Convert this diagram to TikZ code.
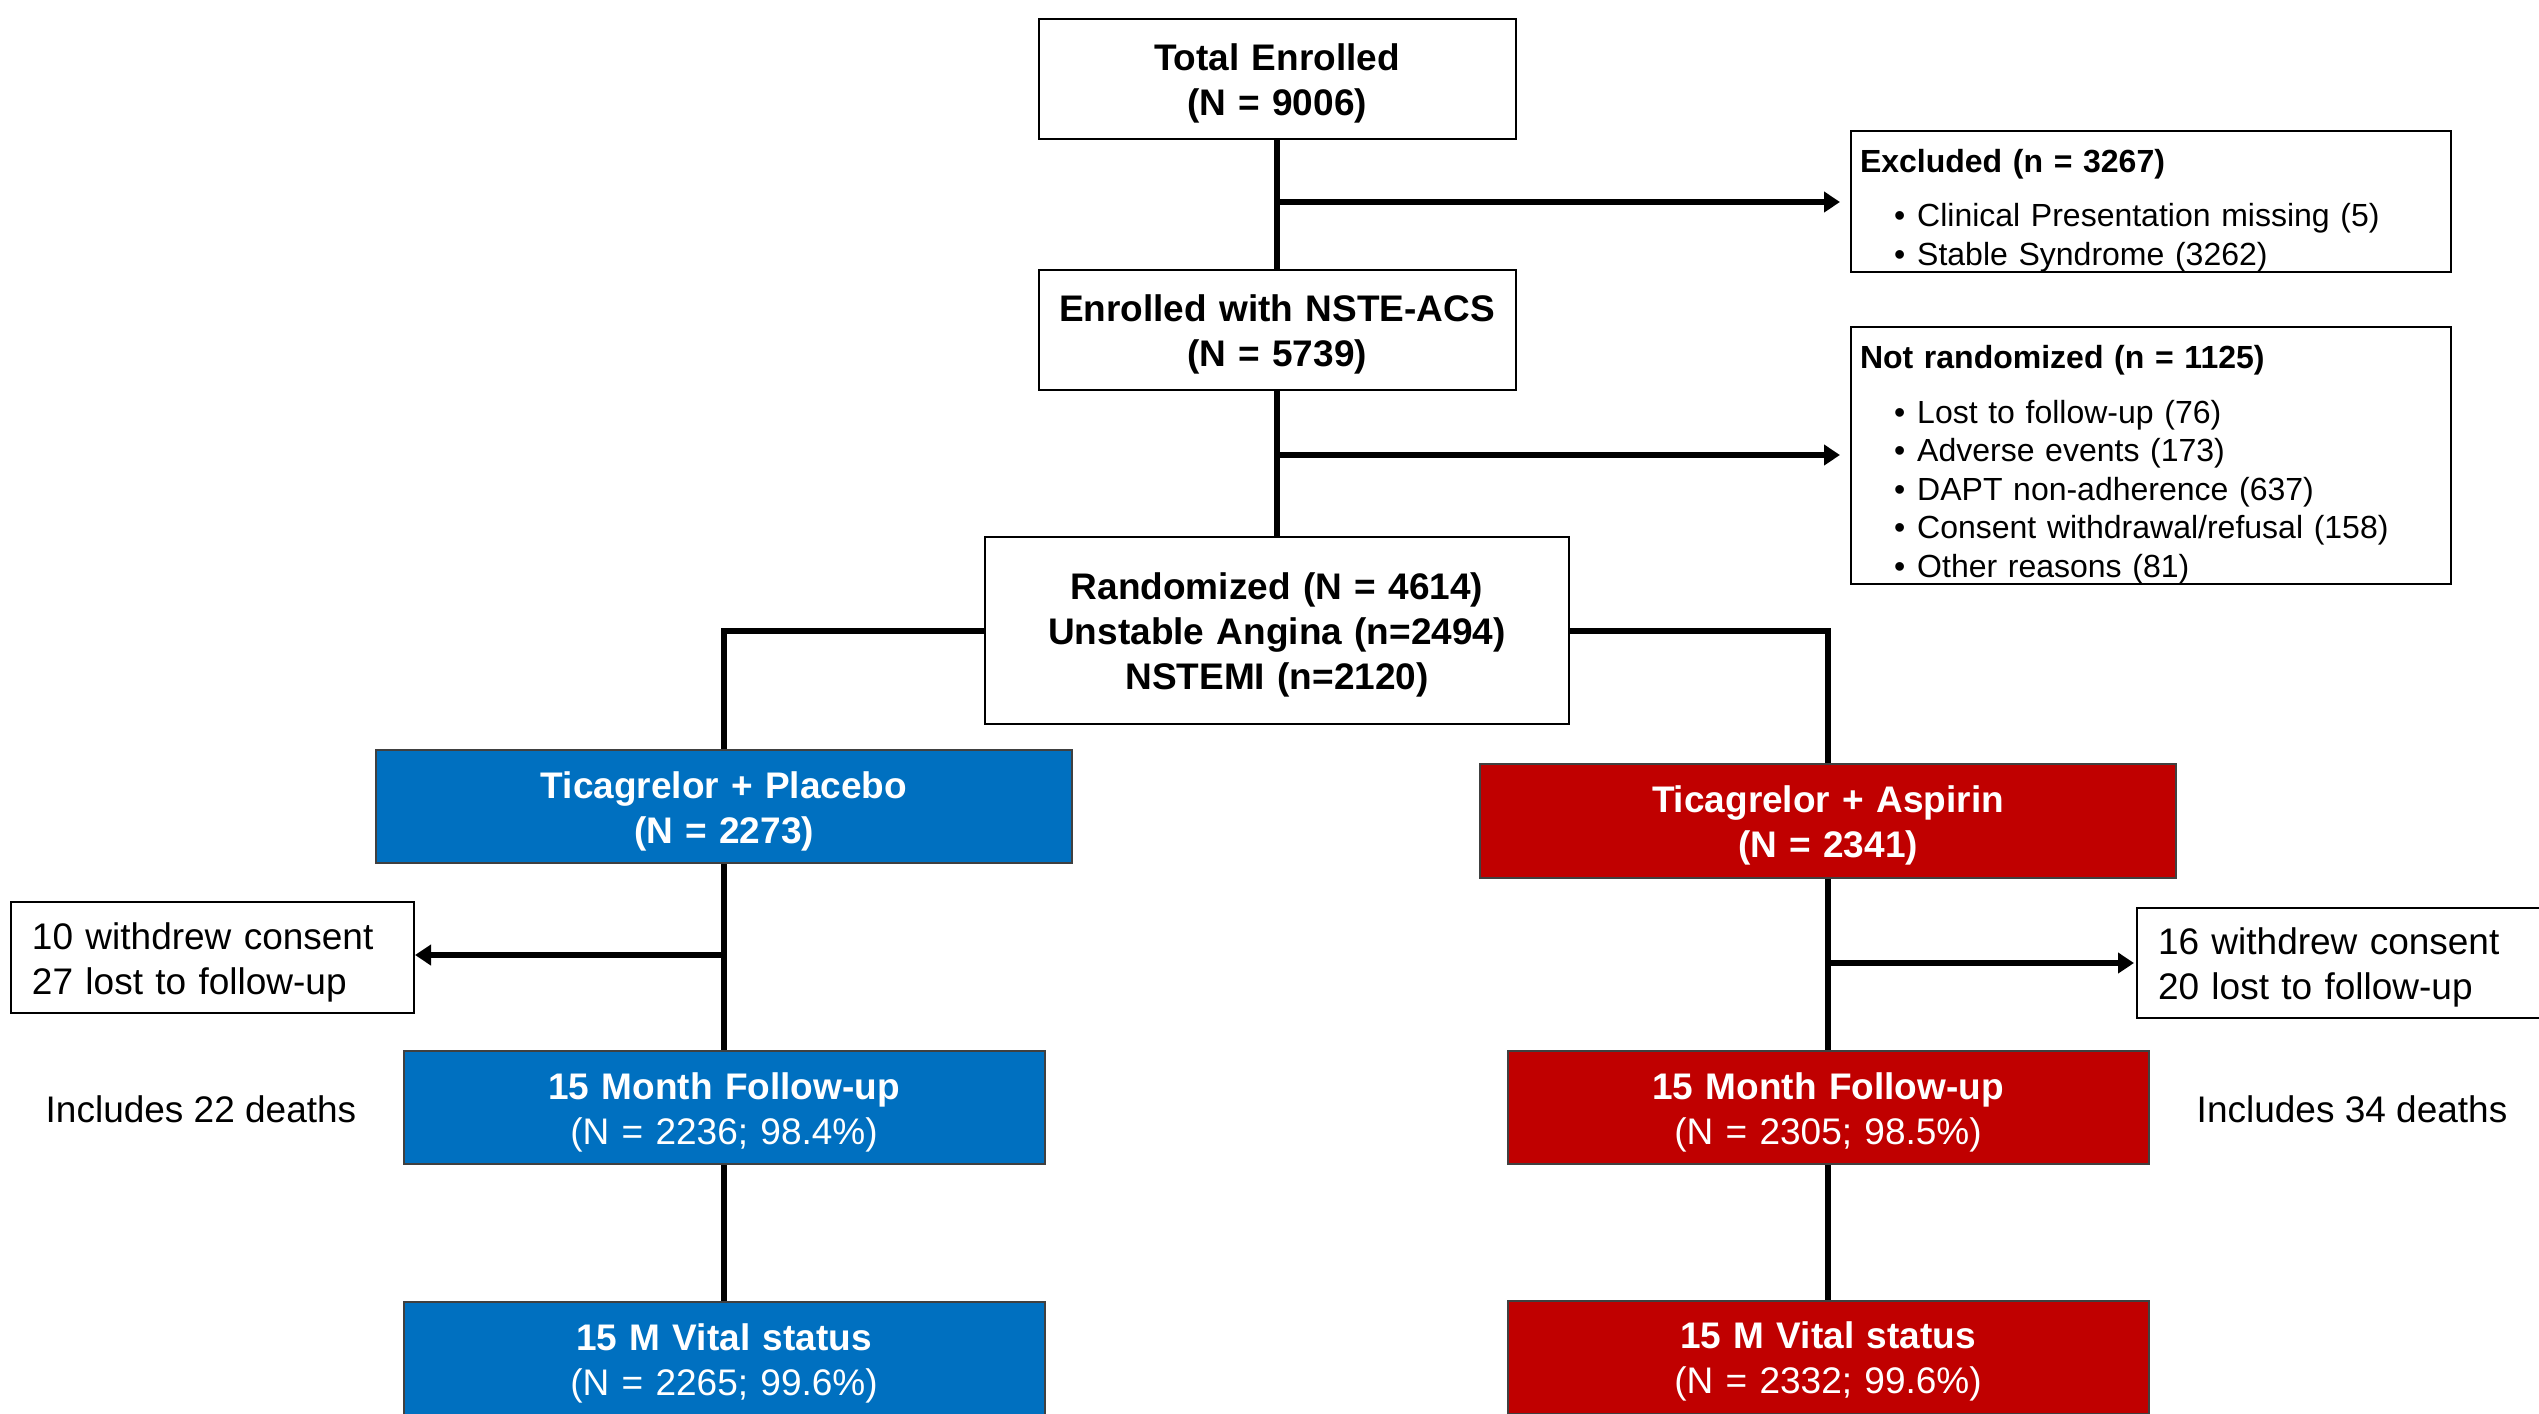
\documentclass[tikz,border=0pt]{standalone}
\usepackage{fontspec}
\setmainfont{Liberation Sans}
\usepackage{xcolor}
\usetikzlibrary{arrows.meta, positioning}

\definecolor{plblue}{HTML}{0070C0}
\definecolor{asred}{HTML}{C00000}
\newcommand{\bul}{\hspace*{17pt}\textbullet\hspace{6pt}}

\begin{document}
\begin{tikzpicture}[x=0.5pt, y=-0.5pt,
  box/.style={draw, line width=1pt, align=center, inner sep=0pt,
    text height=18pt, font=\bfseries\fontsize{18.5}{22.5}\selectfont},
  sidebox/.style={draw, line width=1pt, align=left, inner xsep=4.5pt,
    inner ysep=0pt, text width=291pt, text height=20.4pt,
    font=\fontsize{16}{19.5}\selectfont},
  notebox/.style={draw, line width=1pt, align=left, inner xsep=10.5pt,
    inner ysep=0pt, text height=18pt, font=\fontsize{18.5}{22.5}\selectfont},
  arm/.style={draw=black!75, line width=1pt, fill=#1, text=white,
    align=center, inner sep=0pt, text height=18pt,
    font=\fontsize{18.5}{22.5}\selectfont},
  link/.style={line width=3pt},
  arr/.style={link, -{Triangle[length=8pt,width=10pt]}}]
\useasboundingbox (0,0) rectangle (2539,1414);
\clip (0,0) rectangle (2539,1414);

% enrolment
\node[box, text width=238.5pt, minimum height=60pt] (total) at (1277,79)
  {Total Enrolled\\(N = 9006)};
\node[box, text width=238.5pt, minimum height=60pt] (nste) at (1277,330)
  {Enrolled with NSTE-ACS\\(N = 5739)};
\node[box, text width=292pt, minimum height=93.5pt] (rand) at (1277,630.5)
  {Randomized (N = 4614)\\Unstable Angina (n=2494)\\NSTEMI (n=2120)};

% exclusions
\node[sidebox, minimum height=70.5pt] (excl) at (2151,201.5)
  {\textbf{Excluded (n = 3267)}\\[7.5pt]
   \bul Clinical Presentation missing (5)\\
   \bul Stable Syndrome (3262)};
\node[sidebox, minimum height=128.5pt,
      font=\fontsize{16}{19.25}\selectfont] (notrand) at (2151,455.5)
  {\textbf{Not randomized (n = 1125)}\\[8.25pt]
   \bul Lost to follow-up (76)\\
   \bul Adverse events (173)\\
   \bul DAPT non-adherence (637)\\
   \bul Consent withdrawal/refusal (158)\\
   \bul Other reasons (81)};

% arms
\node[arm=plblue, text width=348pt, minimum height=56.5pt] (plac) at (724,806.5)
  {\textbf{Ticagrelor + Placebo}\\\textbf{(N = 2273)}};
\node[arm=asred, text width=348pt, minimum height=57pt] (asp) at (1828,821)
  {\textbf{Ticagrelor + Aspirin}\\\textbf{(N = 2341)}};

% losses
\node[notebox, text width=180.5pt, minimum height=55.5pt] (wl) at (212.5,957.5)
  {10 withdrew consent\\27 lost to follow-up};
\node[notebox, text width=183pt, minimum height=55pt] (wr) at (2341,963)
  {16 withdrew consent\\20 lost to follow-up};

% follow-up
\node[arm=plblue, text width=320.5pt, minimum height=56.5pt] (fl) at (724,1107.5)
  {\textbf{15 Month Follow-up}\\(N = 2236; 98.4\%)};
\node[arm=asred, text width=320.5pt, minimum height=56.5pt] (fr) at (1828,1107.5)
  {\textbf{15 Month Follow-up}\\(N = 2305; 98.5\%)};
\node[font=\fontsize{18.5}{22.5}\selectfont] (dl) at (201,1109) {Includes 22 deaths};
\node[font=\fontsize{18.5}{22.5}\selectfont] (dr) at (2352,1109) {Includes 34 deaths};

% vital status
\node[arm=plblue, text width=320.5pt, minimum height=56.5pt] (vl) at (724,1358.5)
  {\textbf{15 M Vital status}\\(N = 2265; 99.6\%)};
\node[arm=asred, text width=320.5pt, minimum height=56.5pt] (vr) at (1828,1357)
  {\textbf{15 M Vital status}\\(N = 2332; 99.6\%)};

% connectors
\coordinate (b1) at (1277,202);
\coordinate (b2) at (1277,455);
\coordinate (b3) at (724,955);
\coordinate (b4) at (1828,963);
\draw[link] (total) -- (nste);
\draw[link] (nste) -- (rand);
\draw[arr, shorten >=5pt] (b1) -- (excl.west |- b1);
\draw[arr, shorten >=5pt] (b2) -- (notrand.west |- b2);
\draw[link] (rand.west) -| (plac.north);
\draw[link] (rand.east) -| (asp.north);
\draw[link] (plac) -- (fl);
\draw[link] (asp) -- (fr);
\draw[arr] (b3) -- (wl.east |- b3);
\draw[arr, shorten >=1pt] (b4) -- (wr.west |- b4);
\draw[link] (fl) -- (vl);
\draw[link] (fr) -- (vr);
\end{tikzpicture}
\end{document}
